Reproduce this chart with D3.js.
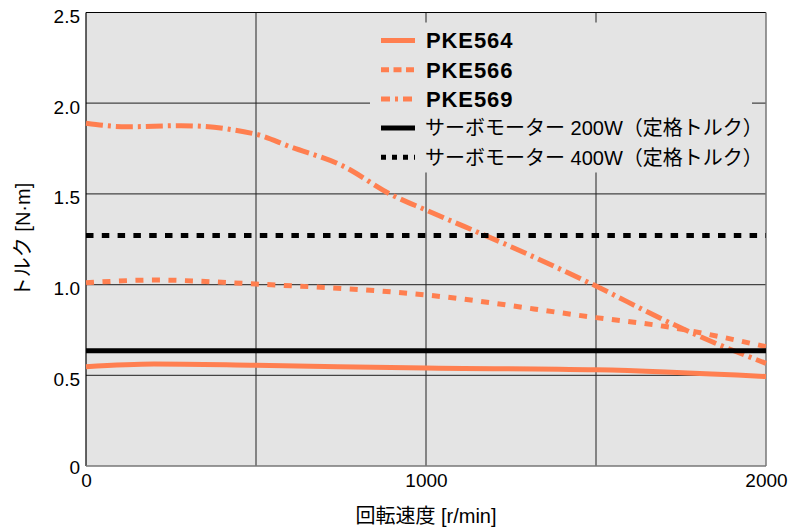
<!DOCTYPE html>
<html lang="ja">
<head>
<meta charset="UTF-8">
<title>トルク特性</title>
<script src="https://d3js.org/d3.v7.min.js"></script>
<style>
  body { margin: 0; background: #fff; }
  text { font-family: "Liberation Sans", Arial, "Noto Sans CJK JP", sans-serif; fill: #000; }
</style>
</head>
<body>
<div id="chart"></div>
<script>
// speed [r/min] and torque [N·m]
const speed564 = [0, 200, 500, 1000, 1500, 2000];
const torque564 = [0.547, 0.562, 0.555, 0.54, 0.53, 0.493];

const speed566 = [0, 200, 500, 1000, 1500, 1700, 2000];
const torque566 = [1.01, 1.025, 1.003, 0.943, 0.818, 0.77, 0.658];

const speed569 = [0, 120, 280, 500, 600, 750, 900, 1000, 1250, 1500, 1700, 1850, 2000];
const torque569 = [1.889, 1.87, 1.876, 1.829, 1.76, 1.659, 1.494, 1.411, 1.209, 0.992, 0.805, 0.678, 0.566];

const servo200 = 0.636;
const servo400 = 1.27;

const xTicks = [0, 1000, 2000];
const xGrid = [500, 1000, 1500];
const yTicks = [0, 0.5, 1.0, 1.5, 2.0, 2.5];
const yTickLabels = ["0", "0.5", "1.0", "1.5", "2.0", "2.5"];
const yGrid = [0.5, 1.0, 1.5, 2.0];

const legendNames = ["PKE564", "PKE566", "PKE569", "サーボモーター 200W（定格トルク）", "サーボモーター 400W（定格トルク）"];

const W = 800, H = 532;
const margin = { top: 12.5, right: 34, bottom: 66, left: 86 };
const width = W - margin.left - margin.right,
      height = H - margin.top - margin.bottom;

const orange = "#ff7f50";

const svg = d3.select("#chart").append("svg")
    .attr("width", W)
    .attr("height", H);

const g = svg.append("g")
    .attr("transform", `translate(${margin.left},${margin.top})`);

const x = d3.scaleLinear().domain([0, 2000]).range([0, width]);
const y = d3.scaleLinear().domain([0, 2.5]).range([height, 0]);

// background
g.append("rect")
    .attr("width", width)
    .attr("height", height)
    .attr("fill", "#e4e4e4");

// grid
g.selectAll(".hgrid").data(yGrid).enter()
  .append("line")
    .attr("x1", 0).attr("x2", width)
    .attr("y1", d => y(d)).attr("y2", d => y(d))
    .attr("stroke", "#444").attr("stroke-width", 1.2);

g.selectAll(".vgrid").data(xGrid).enter()
  .append("line")
    .attr("x1", d => x(d)).attr("x2", d => x(d))
    .attr("y1", 0).attr("y2", height)
    .attr("stroke", "#222").attr("stroke-width", 1);

// frame
g.append("line").attr("x1", 0).attr("x2", width).attr("y1", 0).attr("y2", 0)
    .attr("stroke", "#000").attr("stroke-width", 1);
g.append("line").attr("x1", 0).attr("x2", 0).attr("y1", 0).attr("y2", height)
    .attr("stroke", "#000").attr("stroke-width", 1.2);
g.append("line").attr("x1", 0).attr("x2", width).attr("y1", height).attr("y2", height)
    .attr("stroke", "#777").attr("stroke-width", 1.5);
g.append("line").attr("x1", width).attr("x2", width).attr("y1", 0).attr("y2", height)
    .attr("stroke", "#777").attr("stroke-width", 1.5);

// legend box (covers grid)
const lg = g.append("g").attr("transform", `translate(${x(0) + 284},${10})`);
lg.append("rect")
    .attr("width", 382).attr("height", 150)
    .attr("fill", "#e4e4e4");

// y axis
const yAxis = g.append("g")
    .call(d3.axisLeft(y).tickValues(yTicks).tickSize(0).tickPadding(6)
        .tickFormat((d, i) => yTickLabels[i]));
yAxis.select(".domain").remove();
yAxis.selectAll("text")
    .style("font-size", "19px")
    .attr("dy", "0.52em");
yAxis.selectAll(".tick").filter(d => d === 0).select("text").attr("dy", "0.4em");

// x axis
const xAxis = g.append("g")
    .attr("transform", `translate(0,${height})`)
    .call(d3.axisBottom(x).tickValues(xTicks).tickSize(0).tickPadding(8)
        .tickFormat(d3.format("d")));
xAxis.select(".domain").remove();
xAxis.selectAll("text").style("font-size", "19px");

// axis titles
svg.append("text")
    .attr("x", margin.left + x(1000))
    .attr("y", 523)
    .attr("text-anchor", "middle")
    .style("font-size", "20px")
    .text("回転速度 [r/min]");

svg.append("text")
    .attr("transform", `translate(30,240) rotate(-90)`)
    .attr("text-anchor", "middle")
    .style("font-size", "20px")
    .text("トルク [N·m]");

// series lines
const line = d3.line()
    .x(d => x(d[0]))
    .y(d => y(d[1]))
    .curve(d3.curveMonotoneX);

g.append("path")
    .attr("d", line(d3.zip(speed566, torque566)))
    .attr("fill", "none")
    .attr("stroke", orange)
    .attr("stroke-width", 5)
    .attr("stroke-dasharray", "8,8.5");

g.append("path")
    .attr("d", line(d3.zip(speed569, torque569)))
    .attr("fill", "none")
    .attr("stroke", orange)
    .attr("stroke-width", 5)
    .attr("stroke-dasharray", "17,5,3,5");

g.append("line")
    .attr("x1", x(0)).attr("x2", x(2000))
    .attr("y1", y(servo200)).attr("y2", y(servo200))
    .attr("stroke", "#000").attr("stroke-width", 5);

g.append("line")
    .attr("x1", x(0)).attr("x2", x(2000))
    .attr("y1", y(servo400)).attr("y2", y(servo400))
    .attr("stroke", "#000").attr("stroke-width", 5)
    .attr("stroke-dasharray", "7.5,8.3");

g.append("path")
    .attr("d", line(d3.zip(speed564, torque564)))
    .attr("fill", "none")
    .attr("stroke", orange)
    .attr("stroke-width", 5);

// legend entries
const legendStyles = [
    { color: orange, dash: null },
    { color: orange, dash: "8,4.5" },
    { color: orange, dash: "9,5,3,5" },
    { color: "#000", dash: null },
    { color: "#000", dash: "5,6" }
];

legendNames.forEach((name, i) => {
    const yy = 18 + i * 29.2;
    lg.append("line")
        .attr("x1", 11).attr("x2", 45)
        .attr("y1", yy).attr("y2", yy)
        .attr("stroke", legendStyles[i].color)
        .attr("stroke-width", 5)
        .attr("stroke-dasharray", legendStyles[i].dash);
    lg.append("text")
        .attr("x", i < 3 ? 56 : 55)
        .attr("y", yy)
        .attr("dy", "0.36em")
        .style("font-size", i < 3 ? "22px" : "20px")
        .style("font-weight", i < 3 ? "bold" : "normal")
        .style("letter-spacing", i < 3 ? "0.9px" : "0px")
        .text(name);
});
</script>
</body>
</html>
